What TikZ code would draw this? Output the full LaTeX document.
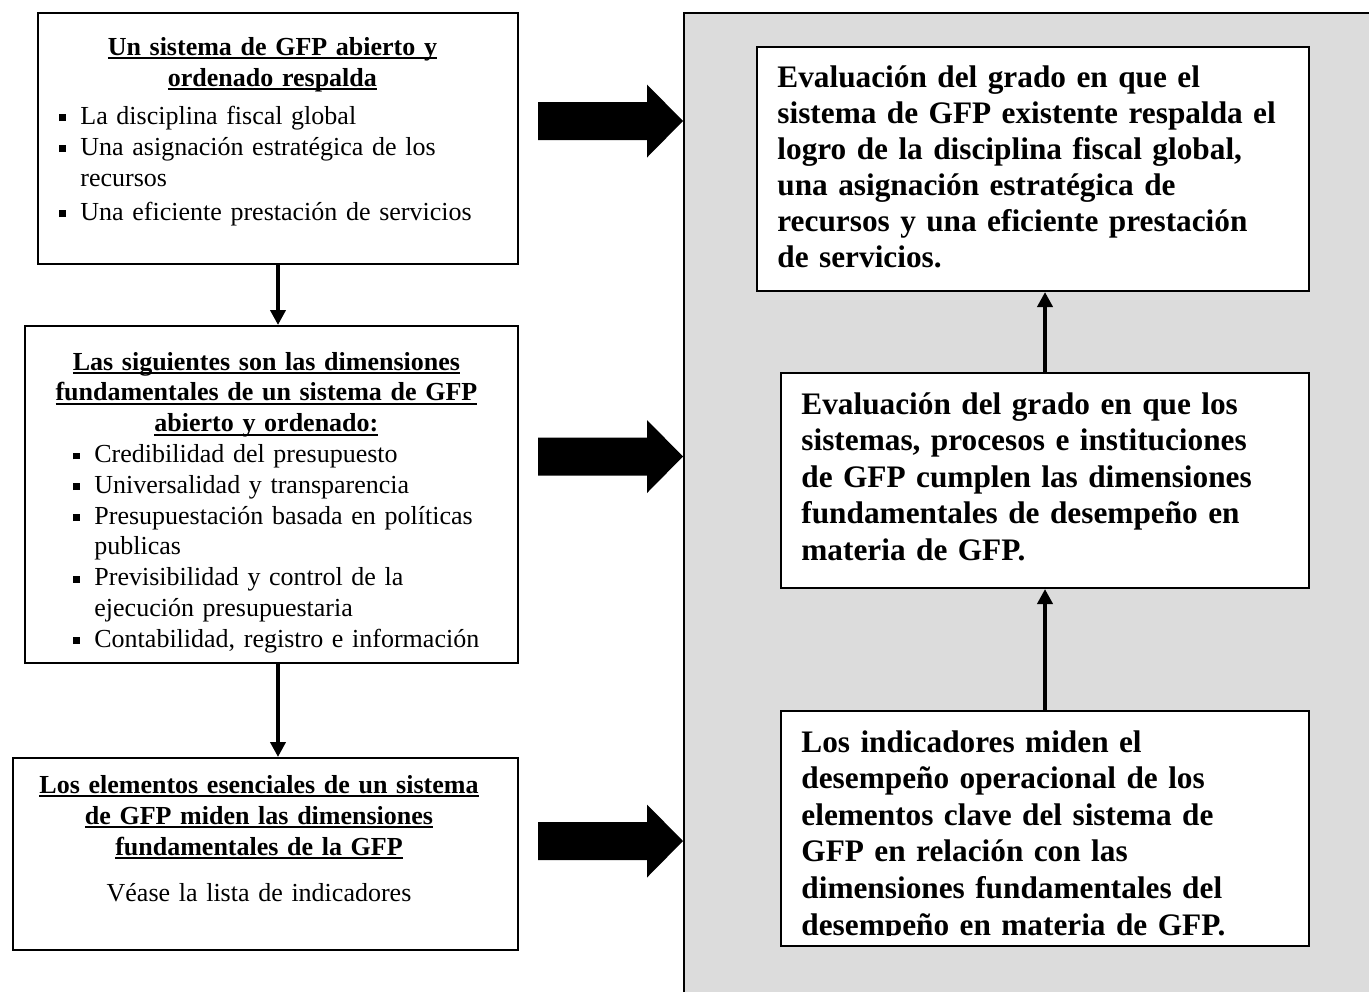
\documentclass[tikz,border=0pt]{standalone}
\usepackage{fontspec}
\setmainfont{Liberation Serif}
\usetikzlibrary{arrows.meta}
\definecolor{panelgray}{HTML}{DCDCDC}
\newsavebox{\ulbox}
\newcommand{\ul}[1]{\mbox{\sbox{\ulbox}{#1}\rlap{\rule[-2.1pt]{\wd\ulbox}{0.95pt}}\usebox{\ulbox}}}
\newcommand{\bul}{\makebox[10.5pt][l]{\rule[1.5pt]{3.2pt}{3.4pt}}}
\newcommand{\ind}{\hspace*{10.5pt}}
\newcommand{\headline}[2]{\makebox[#1][c]{\ul{\textbf{#2}}}}
\tikzset{
  box/.style={draw,line width=1pt,fill=white,anchor=north west,inner sep=0pt},
  lefttext/.style={anchor=base west,inner sep=0pt,align=left,text width=260pt,
    font=\fontsize{13}{15.5}\selectfont},
  righttext/.style={anchor=base west,inner sep=0pt,align=left,text width=290pt,
    font=\fontsize{15.65}{18}\selectfont\bfseries},
  flow/.style={line width=2pt,-{Triangle[length=7.5pt,width=7.5pt]}}
}
\begin{document}
\begin{tikzpicture}[x=0.5pt,y=-0.5pt]
\useasboundingbox (0,0) rectangle (1369,992);
% gray panel
\fill[panelgray] (684,13) rectangle (1369,992);
\draw[line width=1pt] (684,992) -- (684,13) -- (1369,13);
% left column
\node[box,minimum width=240pt,minimum height=125.5pt] (gfp) at (37,12) {};
\node[lefttext] (gfptext) at (59,55) {%
  \headline{213pt}{Un sistema de GFP abierto y}\\
  \headline{213pt}{ordenado respalda}\\[3.5pt]
  \bul La disciplina fiscal global\\
  \bul Una asignación estratégica de los\\
  \ind recursos\\[1.5pt]
  \bul Una eficiente prestación de servicios};
\node[box,minimum width=246.5pt,minimum height=168.5pt] (dims) at (24,325) {};
\node[lefttext,font=\fontsize{13}{15.4}\selectfont] (dimstext) at (73,370) {%
  \headline{193pt}{Las siguientes son las dimensiones}\\
  \headline{193pt}{fundamentales de un sistema de GFP}\\
  \headline{193pt}{abierto y ordenado:}\\
  \bul Credibilidad del presupuesto\\
  \bul Universalidad y transparencia\\
  \bul Presupuestación basada en políticas\\
  \ind publicas\\
  \bul Previsibilidad y control de la\\
  \ind ejecución presupuestaria\\
  \bul Contabilidad, registro e información};
\node[box,minimum width=252.5pt,minimum height=96pt] (elems) at (12,757) {};
\node[lefttext,anchor=base,align=center,text width=250pt] (elemstext) at (259,793) {%
  \ul{\textbf{Los elementos esenciales de un sistema}}\\
  \ul{\textbf{de GFP miden las dimensiones}}\\
  \ul{\textbf{fundamentales de la GFP}}\\[7.5pt]
  Véase la lista de indicadores};
\draw[flow] (gfp.south) -- (gfp.south |- dims.north);
\draw[flow] (dims.south -| gfp.south) -- (elems.north -| gfp.south);
% right column
\node[box,minimum width=276pt,minimum height=122pt] (evala) at (756,46) {};
\node[righttext] (evalatext) at (777,87) {%
  Evaluación del grado en que el\\
  sistema de GFP existente respalda el\\
  logro de la disciplina fiscal global,\\
  una asignación estratégica de\\
  recursos y una eficiente prestación\\
  de servicios.};
\node[box,minimum width=264pt,minimum height=107.5pt] (evalb) at (780,372) {};
\node[righttext,font=\fontsize{15.65}{18.3}\selectfont\bfseries] (evalbtext) at (801,414) {%
  Evaluación del grado en que los\\
  sistemas, procesos e instituciones\\
  de GFP cumplen las dimensiones\\
  fundamentales de desempeño en\\
  materia de GFP.};
\node[box,minimum width=264pt,minimum height=117.5pt] (evalc) at (780,710) {};
\begin{scope}
  \clip (780,710) rectangle (1308,935.5);
  \node[righttext,font=\fontsize{15.65}{18.3}\selectfont\bfseries] (evalctext) at (801,752) {%
    Los indicadores miden el\\
    desempeño operacional de los\\
    elementos clave del sistema de\\
    GFP en relación con las\\
    dimensiones fundamentales del\\
    desempeño en materia de GFP.};
\end{scope}
\draw[flow] (evalc.north) -- (evalb.south);
\draw[flow] (evalb.north) -- (evalb.north |- evala.south);
% big arrows towards the panel
\foreach \y in {121,456.5,841}
  \fill (538,{\y-19}) -- (647,{\y-19}) -- (647,{\y-36.5}) -- (683,\y)
    -- (647,{\y+36.5}) -- (647,{\y+19}) -- (538,{\y+19}) -- cycle;
\end{tikzpicture}
\end{document}
